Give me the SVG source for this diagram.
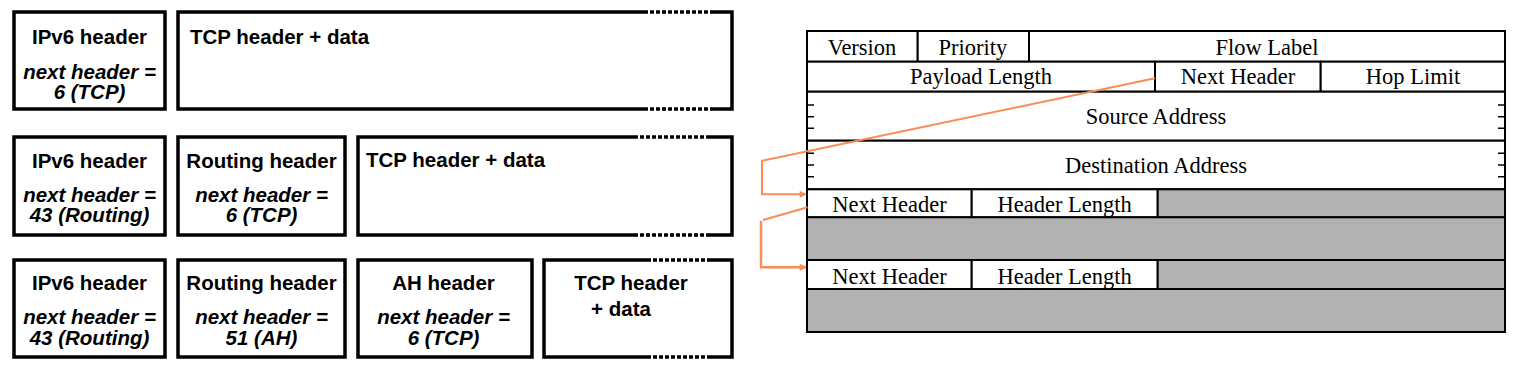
<svg xmlns="http://www.w3.org/2000/svg" width="1516" height="366" viewBox="0 0 1516 366">
<style>
.bx{fill:#fff;stroke:#000;stroke-width:3.5}
.dot{stroke:#fff;stroke-width:5}
.dash{stroke:#000;stroke-width:3.5;stroke-dasharray:4 2}
.b{font-family:"Liberation Sans",Arial,sans-serif;font-weight:bold;font-size:20.5px;fill:#000}
.i{font-style:italic}
.m{text-anchor:middle}
.t{font-family:"Liberation Serif","Times New Roman",serif;font-size:22.5px;fill:#000;text-anchor:middle}
.cell{fill:#fff;stroke:#000;stroke-width:2}
.gray{fill:#b2b2b2;stroke:#000;stroke-width:2}
.tick{stroke:#000;stroke-width:1.5}
.or{fill:none;stroke:#fa8c55;stroke-width:2}
</style>
<defs>
<marker id="ah" viewBox="0 0 10 10" refX="9" refY="5" markerWidth="9" markerHeight="7" markerUnits="userSpaceOnUse" orient="auto">
<path d="M0,0 L10,5 L0,10 z" fill="#fa8c55"/>
</marker>
</defs>

<g id="row1">
<g id="r1-ipv6">
<rect class="bx" x="14" y="12" width="151" height="97"/>
<text class="b m" x="89.5" y="44">IPv6 header</text>
<text class="b i m" x="89.5" y="79">next header =</text>
<text class="b i m" x="89.5" y="99">6 (TCP)</text>
</g>
<g id="r1-tcp">
<rect class="bx" x="178" y="12" width="554" height="97"/>
<line class="dot" x1="644" y1="12" x2="710" y2="12"/>
<line class="dot" x1="644" y1="109" x2="710" y2="109"/>
<line class="dash" x1="644" y1="12" x2="710" y2="12"/>
<line class="dash" x1="644" y1="109" x2="710" y2="109"/>
<text class="b" x="190" y="44">TCP header + data</text>
</g>
</g>

<g id="row2">
<g id="r2-ipv6">
<rect class="bx" x="14" y="137" width="151" height="98"/>
<text class="b m" x="89.5" y="167.5">IPv6 header</text>
<text class="b i m" x="89.5" y="201.5">next header =</text>
<text class="b i m" x="89.5" y="222">43 (Routing)</text>
</g>
<g id="r2-routing">
<rect class="bx" x="178" y="137" width="167" height="98"/>
<text class="b m" x="261.5" y="167.5">Routing header</text>
<text class="b i m" x="261.5" y="201.5">next header =</text>
<text class="b i m" x="261.5" y="222">6 (TCP)</text>
</g>
<g id="r2-tcp">
<rect class="bx" x="358" y="137" width="374" height="98"/>
<line class="dot" x1="634" y1="137" x2="710" y2="137"/>
<line class="dot" x1="634" y1="235" x2="710" y2="235"/>
<line class="dash" x1="634" y1="137" x2="710" y2="137"/>
<line class="dash" x1="634" y1="235" x2="710" y2="235"/>
<text class="b" x="366" y="167">TCP header + data</text>
</g>
</g>

<g id="row3">
<g id="r3-ipv6">
<rect class="bx" x="14" y="260" width="151" height="97"/>
<text class="b m" x="89.5" y="290">IPv6 header</text>
<text class="b i m" x="89.5" y="324">next header =</text>
<text class="b i m" x="89.5" y="344.5">43 (Routing)</text>
</g>
<g id="r3-routing">
<rect class="bx" x="178" y="260" width="167" height="97"/>
<text class="b m" x="261.5" y="290">Routing header</text>
<text class="b i m" x="261.5" y="324">next header =</text>
<text class="b i m" x="261.5" y="344.5">51 (AH)</text>
</g>
<g id="r3-ah">
<rect class="bx" x="358" y="260" width="174" height="97"/>
<text class="b m" x="443.5" y="290">AH header</text>
<text class="b i m" x="443.5" y="324">next header =</text>
<text class="b i m" x="443.5" y="344.5">6 (TCP)</text>
</g>
<g id="r3-tcp">
<rect class="bx" x="544" y="260" width="188" height="97"/>
<line class="dot" x1="647" y1="260" x2="710" y2="260"/>
<line class="dot" x1="647" y1="357" x2="710" y2="357"/>
<line class="dash" x1="647" y1="260" x2="710" y2="260"/>
<line class="dash" x1="647" y1="357" x2="710" y2="357"/>
<text class="b m" x="631" y="290">TCP header</text>
<text class="b m" x="621" y="315.5">+ data</text>
</g>
</g>

<g id="ipv6-table">
<g id="t-row1">
<rect class="cell" x="807" y="31" width="110.7" height="30.7"/>
<rect class="cell" x="917.7" y="31" width="111.3" height="30.7"/>
<rect class="cell" x="1029" y="31" width="476" height="30.7"/>
<text class="t" x="862" y="55">Version</text>
<text class="t" x="973" y="55">Priority</text>
<text class="t" x="1267" y="55">Flow Label</text>
</g>
<g id="t-row2">
<rect class="cell" x="807" y="61.7" width="348" height="30"/>
<rect class="cell" x="1155" y="61.7" width="165.7" height="30"/>
<rect class="cell" x="1320.7" y="61.7" width="184.3" height="30"/>
<text class="t" x="981" y="84">Payload Length</text>
<text class="t" x="1238" y="84">Next Header</text>
<text class="t" x="1413" y="84">Hop Limit</text>
</g>
<g id="t-src">
<rect class="cell" x="807" y="91.7" width="698" height="49"/>
<path class="tick" d="M807,105h7M807,116.7h7M807,128.3h7M1498,105h7M1498,116.7h7M1498,128.3h7"/>
<text class="t" x="1156" y="124">Source Address</text>
</g>
<g id="t-dst">
<rect class="cell" x="807" y="140.7" width="698" height="48.6"/>
<path class="tick" d="M807,153.3h7M807,165h7M807,176.7h7M1498,153.3h7M1498,165h7M1498,176.7h7"/>
<text class="t" x="1156" y="172.7">Destination Address</text>
</g>
<g id="t-ext1">
<rect class="cell" x="807" y="189.3" width="164.7" height="28"/>
<rect class="cell" x="971.7" y="189.3" width="186" height="28"/>
<rect class="gray" x="1157.7" y="189.3" width="347.3" height="28"/>
<rect class="gray" x="807" y="217.3" width="698" height="42.7"/>
<text class="t" x="889.5" y="212.3">Next Header</text>
<text class="t" x="1064.7" y="212.3">Header Length</text>
</g>
<g id="t-ext2">
<rect class="cell" x="807" y="260" width="164.7" height="29"/>
<rect class="cell" x="971.7" y="260" width="186" height="29"/>
<rect class="gray" x="1157.7" y="260" width="347.3" height="29"/>
<rect class="gray" x="807" y="289" width="698" height="43"/>
<text class="t" x="889.5" y="284">Next Header</text>
<text class="t" x="1064.7" y="284">Header Length</text>
</g>
</g>

<g id="connectors">
<path class="or" marker-end="url(#ah)" d="M1155,78.3 L762,160.7 L762,194.3 L806,194.3"/>
<path class="or" d="M807.5,207.3 L763,220"/>
<path class="or" marker-end="url(#ah)" style="stroke-width:2.5" d="M761,220.7 L761,267.3 L806,267.3"/>
</g>
</svg>
